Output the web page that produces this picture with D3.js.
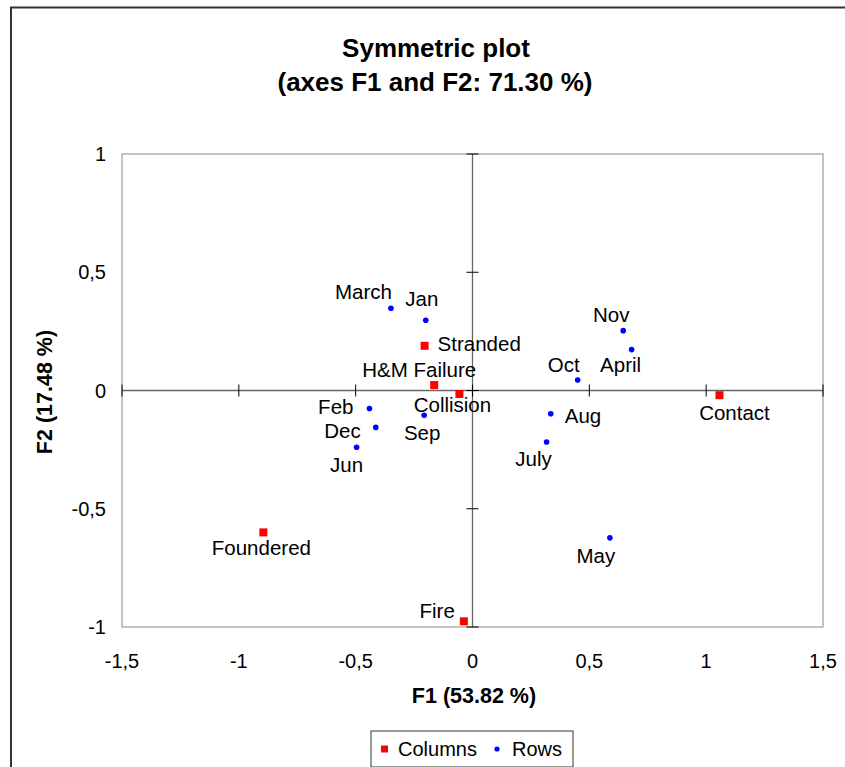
<!DOCTYPE html>
<html><head><meta charset="utf-8">
<script src="https://cdn.jsdelivr.net/npm/d3@7"></script>
<style>body{margin:0;background:#fff;} text{font-family:"Liberation Sans",Arial,sans-serif;}</style>
</head><body>
<svg id="c" width="845" height="767"></svg>
<script>
// Columns (red squares)
const colNames = ["Stranded","H&M Failure","Collision","Contact","Foundered","Fire"];
const colF1 = [-0.205,-0.164,-0.056,1.057,-0.895,-0.037];
const colF2 = [0.189,0.023,-0.015,-0.020,-0.600,-0.976];
// Rows (blue dots)
const rowNames = ["March","Jan","Feb","Dec","Sep","Jun","Nov","April","Oct","Aug","July","May"];
const rowF1 = [-0.349,-0.200,-0.441,-0.414,-0.207,-0.496,0.645,0.681,0.450,0.335,0.317,0.588];
const rowF2 = [0.348,0.297,-0.076,-0.156,-0.105,-0.240,0.253,0.173,0.044,-0.098,-0.218,-0.623];
const xTicks = [-1.5,-1,-0.5,0,0.5,1,1.5];
const yTicks = [-1,-0.5,0,0.5,1];
const title1 = "Symmetric plot";
const title2 = "(axes F1 and F2: 71.30 %)";
const xTitle = "F1 (53.82 %)";
const yTitle = "F2 (17.48 %)";

// label placement (anchor, dx, dy) – layout only
const labelPos = {
  "Stranded":["start",13,5],"H&M Failure":["middle",-15,-8],"Collision":["middle",-7,18],
  "Contact":["middle",15,25],"Foundered":["middle",-2,23],"Fire":["end",-9,-3],
  "March":["end",1,-9],"Jan":["middle",-4,-14],"Feb":["end",-16,6],"Dec":["end",-15,11],
  "Sep":["middle",-2,25],"Jun":["middle",-10,25],"Nov":["middle",-12,-9],"April":["middle",-11,22],
  "Oct":["middle",-14,-8],"Aug":["start",14,9],"July":["middle",-13,24],"May":["middle",-14,25]
};

const svg = d3.select("#c");
const fmt = d => String(d).replace(".", ",");
const x = d3.scaleLinear().domain([-1.5,1.5]).range([122,823]);
const y = d3.scaleLinear().domain([-1,1]).range([627,154]);

// outer frame
svg.append("rect").attr("x",11).attr("y",7.5).attr("width",900).attr("height",900)
  .attr("fill","none").attr("stroke","#333").attr("stroke-width",2);

// titles
svg.append("text").attr("x",436).attr("y",57).attr("text-anchor","middle")
  .attr("font-size",26).attr("font-weight","bold").text(title1);
svg.append("text").attr("x",435).attr("y",91).attr("text-anchor","middle")
  .attr("font-size",26).attr("font-weight","bold").text(title2);

// plot frame
svg.append("rect").attr("x",x(-1.5)).attr("y",y(1)).attr("width",x(1.5)-x(-1.5)).attr("height",y(-1)-y(1))
  .attr("fill","none").attr("stroke","#888").attr("stroke-width",1);

// zero axes
svg.append("line").attr("x1",x(-1.5)).attr("x2",x(1.5)).attr("y1",y(0)).attr("y2",y(0))
  .attr("stroke","#666").attr("stroke-width",1.3);
svg.append("line").attr("x1",x(0)).attr("x2",x(0)).attr("y1",y(1)).attr("y2",y(-1))
  .attr("stroke","#666").attr("stroke-width",1.3);

// ticks on zero lines
svg.selectAll(".xt").data(xTicks).enter().append("line")
  .attr("x1",d=>x(d)).attr("x2",d=>x(d)).attr("y1",y(0)-6).attr("y2",y(0)+6)
  .attr("stroke","#000").attr("stroke-width",1);
svg.selectAll(".yt").data(yTicks).enter().append("line")
  .attr("x1",x(0)-6).attr("x2",x(0)+6).attr("y1",d=>y(d)).attr("y2",d=>y(d))
  .attr("stroke","#000").attr("stroke-width",1);

// tick labels
svg.selectAll(".xl").data(xTicks).enter().append("text")
  .attr("x",d=>x(d)).attr("y",668).attr("text-anchor","middle").attr("font-size",20)
  .text(d=>fmt(d));
svg.selectAll(".yl").data(yTicks).enter().append("text")
  .attr("x",106).attr("y",d=>y(d)+7).attr("text-anchor","end").attr("font-size",20)
  .text(d=>fmt(d));

// axis titles
svg.append("text").attr("x",474).attr("y",703).attr("text-anchor","middle")
  .attr("font-size",21.5).attr("font-weight","bold").text(xTitle);
svg.append("text").attr("transform","translate(52,392) rotate(-90)").attr("text-anchor","middle")
  .attr("font-size",21.5).attr("font-weight","bold").text(yTitle);

// points
const cols = colNames.map((n,i)=>({n,f1:colF1[i],f2:colF2[i]}));
const rows = rowNames.map((n,i)=>({n,f1:rowF1[i],f2:rowF2[i]}));
svg.selectAll(".cp").data(cols).enter().append("rect")
  .attr("x",d=>x(d.f1)-4).attr("y",d=>y(d.f2)-4).attr("width",8).attr("height",8).attr("fill","#ff0000");
svg.selectAll(".rp").data(rows).enter().append("circle")
  .attr("cx",d=>x(d.f1)).attr("cy",d=>y(d.f2)).attr("r",2.8).attr("fill","#0000ff");

// labels
svg.selectAll(".lab").data(cols.concat(rows)).enter().append("text")
  .attr("x",d=>x(d.f1)+labelPos[d.n][1]).attr("y",d=>y(d.f2)+labelPos[d.n][2])
  .attr("text-anchor",d=>labelPos[d.n][0]).attr("font-size",20.5).text(d=>d.n);

// legend
const lg = svg.append("g");
lg.append("rect").attr("x",371).attr("y",731).attr("width",202).attr("height",36)
  .attr("fill","#fff").attr("stroke","#333").attr("stroke-width",1);
lg.append("rect").attr("x",381).attr("y",745.5).attr("width",7).attr("height",7).attr("fill","#ff0000");
lg.append("text").attr("x",398).attr("y",756).attr("font-size",20).text("Columns");
lg.append("circle").attr("cx",497).attr("cy",749).attr("r",2.6).attr("fill","#0000ff");
lg.append("text").attr("x",512).attr("y",756).attr("font-size",20).text("Rows");
</script>
</body></html>
